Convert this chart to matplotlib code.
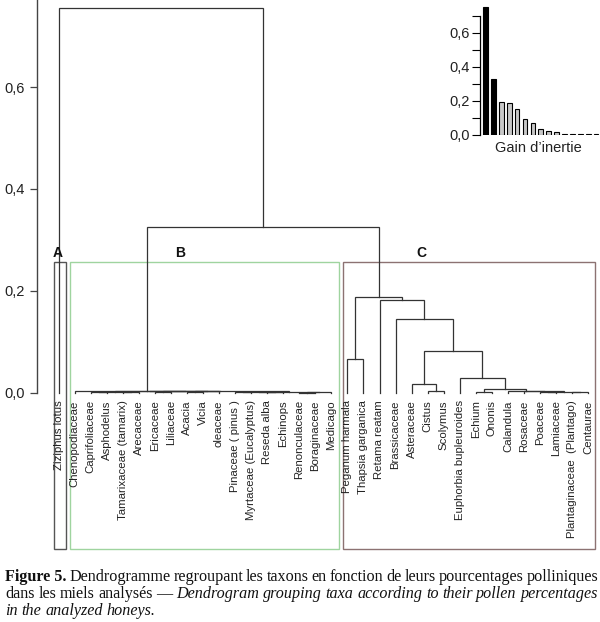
import matplotlib
matplotlib.use("Agg")
import matplotlib.pyplot as plt
from matplotlib.patches import Rectangle
from matplotlib.ticker import FixedLocator, FuncFormatter

# ---------------- data ----------------
leaves = [
    "Ziziphus lotus", "Chenopodiaceae", "Caprifoliaceae", "Asphodelus",
    "Tamarixaceae (tamarix)", "Arecaceae", "Ericaceae", "Liliaceae", "Acacia",
    "Vicia", "oleaceae", "Pinaceae ( pinus )", "Myrtaceae (Eucalyptus)",
    "Reseda alba", "Echinops", "Renonculaceae", "Boraginaceae", "Medicago",
    "Peganum harmala", "Thapsia garganica", "Retama reatam", "Brassicaceae",
    "Asteraceae", "Cistus", "Scolymus", "Euphorbia bupleuroides", "Echium",
    "Ononis", "Calandula", "Rosaceae", "Poaceae", "Lamiaceae",
    "Plantaginaceae  (Plantago)", "Centaurae",
]

# merges: (new node, child 1, child 2, height)
merges = [
    ("b1", "Caprifoliaceae", "Asphodelus", 0.0015),
    ("b2", "Tamarixaceae (tamarix)", "Arecaceae", 0.001),
    ("b3", "b1", "b2", 0.002),
    ("b4", "Ericaceae", "Liliaceae", 0.002),
    ("b5", "Acacia", "Vicia", 0.002),
    ("b6", "b5", "oleaceae", 0.003),
    ("b7", "b4", "b6", 0.0035),
    ("P", "b3", "b7", 0.0038),
    ("q1", "Pinaceae ( pinus )", "Myrtaceae (Eucalyptus)", 0.001),
    ("q2", "Reseda alba", "Echinops", 0.0015),
    ("q3", "q1", "q2", 0.002),
    ("q4", "Renonculaceae", "Boraginaceae", 0.0005),
    ("q5", "q4", "Medicago", 0.001),
    ("Q", "q3", "q5", 0.0025),
    ("R", "P", "Q", 0.004),
    ("B", "Chenopodiaceae", "R", 0.0047),
    ("c1", "Peganum harmala", "Thapsia garganica", 0.067),
    ("c2", "Cistus", "Scolymus", 0.004),
    ("c3", "Asteraceae", "c2", 0.018),
    ("c4", "Echium", "Ononis", 0.002),
    ("c5", "Poaceae", "Lamiaceae", 0.001),
    ("c6", "Plantaginaceae  (Plantago)", "Centaurae", 0.0015),
    ("c7", "c5", "c6", 0.002),
    ("c8", "Rosaceae", "c7", 0.003),
    ("c9", "Calandula", "c8", 0.004),
    ("c10", "c4", "c9", 0.008),
    ("c11", "Euphorbia bupleuroides", "c10", 0.03),
    ("c12", "c3", "c11", 0.082),
    ("c13", "Brassicaceae", "c12", 0.145),
    ("c14", "Retama reatam", "c13", 0.182),
    ("C", "c1", "c14", 0.188),
    ("BC", "B", "C", 0.325),
    ("root", "Ziziphus lotus", "BC", 0.755),
]

groups = ["A", "B", "C"]
group_first = ["Ziziphus lotus", "Chenopodiaceae", "Peganum harmala"]
group_last = ["Ziziphus lotus", "Medicago", "Centaurae"]
group_colors = ["#555555", "#9fd49f", "#8c7272"]

yticks_main = [0.0, 0.2, 0.4, 0.6]

gain = [0.751, 0.327, 0.192, 0.186, 0.153, 0.092, 0.072, 0.035, 0.024, 0.018,
        0.003, 0.003, 0.003, 0.003, 0.003]
n_black = 2

caption_lines = [
    [("Figure 5.", "bold", "normal"), ("Dendrogramme", "normal", "normal"),
     ("regroupant", "normal", "normal"), ("les", "normal", "normal"),
     ("taxons", "normal", "normal"), ("en", "normal", "normal"),
     ("fonction", "normal", "normal"), ("de", "normal", "normal"),
     ("leurs", "normal", "normal"), ("pourcentages", "normal", "normal"),
     ("polliniques", "normal", "normal")],
    [("dans", "normal", "normal"), ("les", "normal", "normal"),
     ("miels", "normal", "normal"), ("analysés", "normal", "normal"),
     ("—", "normal", "normal"), ("Dendrogram", "normal", "italic"),
     ("grouping", "normal", "italic"), ("taxa", "normal", "italic"),
     ("according", "normal", "italic"), ("to", "normal", "italic"),
     ("their", "normal", "italic"), ("pollen", "normal", "italic"),
     ("percentages", "normal", "italic")],
    [("in", "normal", "italic"), ("the", "normal", "italic"),
     ("analyzed", "normal", "italic"), ("honeys.", "normal", "italic")],
]

# ---------------- figure ----------------
W, H = 600, 622
fig = plt.figure(figsize=(W / 100, H / 100), dpi=100)
SANS = ["Liberation Sans", "DejaVu Sans"]
SERIF = ["Liberation Serif", "DejaVu Serif"]
LC = "#333333"


def px_rect(x0, y0, x1, y1):
    return [x0 / W, 1 - y1 / H, (x1 - x0) / W, (y1 - y0) / H]


ax = fig.add_axes(px_rect(37, 0, 600, 560))
ax.set_xlim((37 - 58.5) / 16.05, (600 - 58.5) / 16.05)
ax.set_ylim((393 - 560) / 510, 393 / 510)
for s in ["top", "right", "bottom"]:
    ax.spines[s].set_visible(False)
ax.spines["left"].set_bounds(0, 393 / 510)
ax.spines["left"].set_color("#444444")
ax.spines["left"].set_linewidth(1.0)
ax.set_xticks([])
ax.set_yticks(yticks_main)
ax.yaxis.set_major_formatter(FuncFormatter(lambda v, p: f"{v:.1f}".replace(".", ",")))
ax.tick_params(axis="y", direction="out", length=5, width=0.9, color="#444444",
               pad=4, labelsize=10.5, labelcolor="#222222")
for lab in ax.get_yticklabels():
    lab.set_family(SANS)
ax.patch.set_alpha(0)

# dendrogram
xpos = {name: i for i, name in enumerate(leaves)}
hpos = {name: 0.0 for name in leaves}
for node, a, b, h in merges:
    xa, xb = xpos[a], xpos[b]
    ax.plot([xa, xa, xb, xb], [hpos[a], h, h, hpos[b]], color=LC, lw=0.9,
            solid_joinstyle="miter", clip_on=False)
    xpos[node] = (xa + xb) / 2
    hpos[node] = h

# leaf labels
for i, name in enumerate(leaves):
    ax.text(i, -0.014, name, rotation=90, ha="center", va="top",
            fontsize=8.2, family=SANS, color="#222222")

# group boxes
for g, f, l, c in zip(groups, group_first, group_last, group_colors):
    x0 = leaves.index(f) - 0.3
    x1 = leaves.index(l) + 0.45
    ax.add_patch(Rectangle((x0, -0.306), x1 - x0, 0.257 + 0.306, fill=False,
                           edgecolor=c, lw=1.0, clip_on=False))

label_x = [leaves.index("Ziziphus lotus") - 0.05,
           leaves.index("Chenopodiaceae") + 6.6,
           leaves.index("Peganum harmala") + 4.6]
for g, x in zip(groups, label_x):
    ax.text(x, 0.274, g, ha="center", va="center", fontsize=10,
            fontweight="bold", family=SANS, color="#111111")

# inset: gain d'inertie
ins = fig.add_axes(px_rect(480, 0, 600, 135))
ins.set_xlim((480 - 485.5) / 7.9, (600 - 485.5) / 7.9)
ins.set_ylim(0, 135 / 170)
ins.patch.set_alpha(0)
colors = ["black" if i < n_black else "#c8c8c8" for i in range(len(gain))]
ins.bar(range(len(gain)), gain, width=0.6, color=colors, edgecolor="black",
        linewidth=0.8)
for s in ["top", "right", "bottom"]:
    ins.spines[s].set_visible(False)
ins.spines["left"].set_bounds(0, 0.7)
ins.spines["left"].set_linewidth(0.9)
ins.set_xticks([])
ins.yaxis.set_major_locator(FixedLocator([0.0, 0.2, 0.4, 0.6]))
ins.yaxis.set_minor_locator(FixedLocator([0.1, 0.3, 0.5, 0.7]))
ins.yaxis.set_major_formatter(FuncFormatter(lambda v, p: f"{v:.1f}".replace(".", ",")))
ins.tick_params(axis="y", which="both", direction="out", length=5.5, width=0.8,
                pad=2, labelsize=10.5, labelcolor="#222222")
for lab in ins.get_yticklabels():
    lab.set_family(SANS)
fig.text(538 / W, 1 - 148 / H, "Gain d’inertie", ha="center", va="center",
         fontsize=10.5, family=SANS, color="#222222")

# caption (justified)
fig.canvas.draw()
r = fig.canvas.get_renderer()
FS = 11.6
x_left, x_right = 5, 598
baselines = [581, 598, 615]
for li, (words, yb) in enumerate(zip(caption_lines, baselines)):
    texts = []
    for w, wt, st in words:
        t = fig.text(0, 1 - yb / H, w, fontsize=FS, family=SERIF, fontweight=wt,
                     fontstyle=st, va="baseline", ha="left", color="#111111")
        texts.append(t)
    widths = [t.get_window_extent(r).width for t in texts]
    sp = fig.text(0, 0, "a a", fontsize=FS, family=SERIF)
    sp2 = fig.text(0, 0, "aa", fontsize=FS, family=SERIF)
    space = sp.get_window_extent(r).width - sp2.get_window_extent(r).width
    sp.remove(); sp2.remove()
    if li < len(caption_lines) - 1:
        gap = (x_right - x_left - sum(widths)) / (len(words) - 1)
    else:
        gap = space
    x = x_left
    for t, w in zip(texts, widths):
        t.set_x(x / W)
        x += w + gap

fig.savefig("out.png", dpi=100)
